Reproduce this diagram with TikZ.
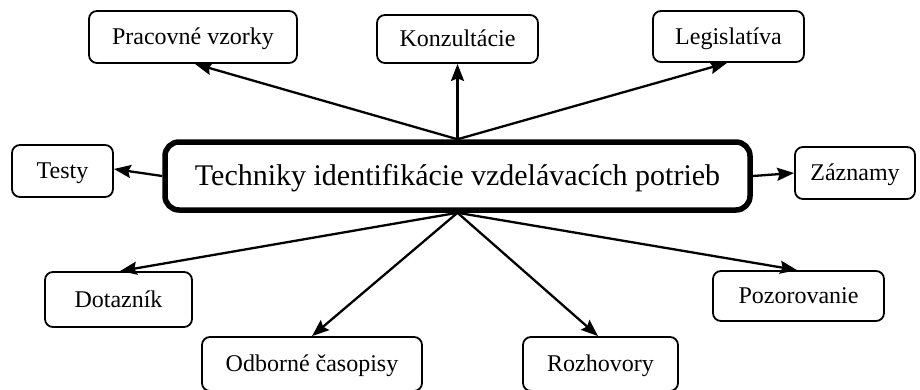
\documentclass[tikz,border=0pt]{standalone}
\usepackage{fontspec}
\setmainfont{Liberation Serif}
\usetikzlibrary{arrows.meta}
\begin{document}
\begin{tikzpicture}[x=1pt,y=-1pt,
  box/.style={draw, line width=1.8pt, rounded corners=8pt, inner sep=0pt, fill=white,
    font=\fontsize{24}{27}\selectfont, text height=15.9pt, text depth=0pt},
  mainbox/.style={draw, line width=5.5pt, rounded corners=14pt, inner sep=0pt, fill=white,
    font=\fontsize{30}{34}\selectfont, text height=19.9pt, text depth=0pt},
  arr/.style={line width=2.3pt, -{Stealth[length=17pt,width=13pt,inset=2.5pt]}}]
\useasboundingbox (0,0) rectangle (920,389);
\clip (0,0) rectangle (920,389);
\node[mainbox, minimum width=585pt, minimum height=68pt] (c) at (457.5,176) {Techniky identifikácie vzdelávacích potrieb};
\node[box, minimum width=208pt, minimum height=52pt] (pv) at (193,37) {Pracovné vzorky};
\node[box, minimum width=161pt, minimum height=48pt] (ko) at (457.5,39) {Konzultácie};
\node[box, minimum width=151pt, minimum height=51pt] (le) at (728.5,36.5) {Legislatíva};
\node[box, minimum width=101pt, minimum height=52pt] (te) at (62.5,171) {Testy};
\node[box, minimum width=120pt, minimum height=52pt] (za) at (855,173) {Záznamy};
\node[box, minimum width=147pt, minimum height=55pt] (do) at (118.5,299.5) {Dotazník};
\node[box, minimum width=220pt, minimum height=54pt] (od) at (312,364) {Odborné časopisy};
\node[box, minimum width=155pt, minimum height=54pt] (ro) at (600.5,364) {Rozhovory};
\node[box, minimum width=171pt, minimum height=50pt] (po) at (798.5,296) {Pozorovanie};
\draw[arr] (c.north) -- ([xshift=2pt]pv.south);
\draw[arr] (c.north) -- (ko.south);
\draw[arr] (c.north) -- ([xshift=-1.5pt]le.south);
\draw[arr] (c.west) -- ([yshift=2pt]te.east);
\draw[arr] (c.east) -- (za.west);
\draw[arr] (c.south) -- ([xshift=1.5pt]do.north);
\draw[arr] (c.south) -- (od.north);
\draw[arr] (c.south) -- ([xshift=-2.5pt]ro.north);
\draw[arr] (c.south) -- ([xshift=-1.5pt]po.north);
\end{tikzpicture}
\end{document}
